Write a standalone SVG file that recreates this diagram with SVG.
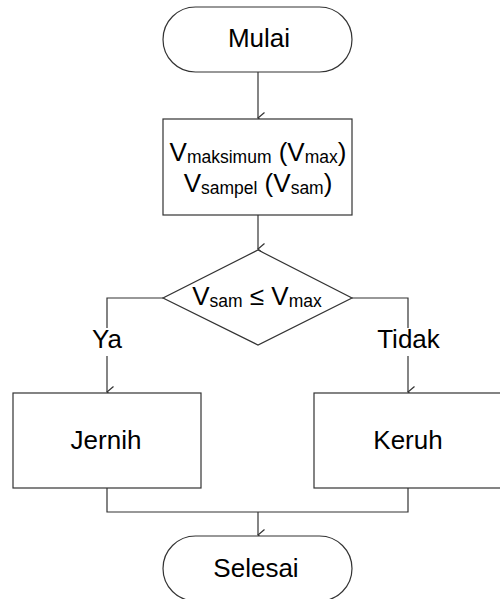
<svg xmlns="http://www.w3.org/2000/svg" width="500" height="599" viewBox="0 0 500 599">
<style>
.s{fill:#fff;stroke:#333;stroke-width:1.2}
.c{fill:none;stroke:#333;stroke-width:1.2}
text{font-family:"Liberation Sans",Arial,sans-serif;font-size:26px;fill:#000;text-anchor:middle}
.sub{font-size:17.5px}
</style>
<defs>
<marker id="a" markerWidth="14" markerHeight="10" refX="7" refY="8" markerUnits="userSpaceOnUse" orient="auto-start-reverse" viewBox="0 0 14 10">
<path d="M1.5,1.5 L7,8 L12.5,1.5" fill="none" stroke="#333" stroke-width="1.2"/>
</marker>
</defs>
<g id="connectors">
<path class="c" d="M258,72 V118" marker-end="url(#a)"/>
<path class="c" d="M258,215 V249" marker-end="url(#a)"/>
<path class="c" d="M163,298 H107 V328"/>
<path class="c" d="M107,356 V392" marker-end="url(#a)"/>
<path class="c" d="M352,298 H408 V328"/>
<path class="c" d="M408,356 V392" marker-end="url(#a)"/>
<path class="c" d="M107,488 V512 H408 V488"/>
<path class="c" d="M258,512 V535" marker-end="url(#a)"/>
<text x="107" y="348">Ya</text>
<text x="408.5" y="348">Tidak</text>
</g>
<g id="mulai">
<rect class="s" x="163" y="7" width="189" height="65" rx="32.5"/>
<text x="259" y="47">Mulai</text>
</g>
<g id="input">
<rect class="s" x="163" y="119" width="189" height="96"/>
<text x="258" y="161">V<tspan class="sub" dy="2">maksimum</tspan><tspan dy="-2"> (V</tspan><tspan class="sub" dy="2">max</tspan><tspan dy="-2">)</tspan></text>
<text x="258" y="192">V<tspan class="sub" dy="2">sampel</tspan><tspan dy="-2"> (V</tspan><tspan class="sub" dy="2">sam</tspan><tspan dy="-2">)</tspan></text>
</g>
<g id="decision">
<polygon class="s" points="258,250 352,298 258,345 163,298"/>
<text x="257" y="305">V<tspan class="sub" dy="2">sam</tspan><tspan dy="-2"> ≤ V</tspan><tspan class="sub" dy="2">max</tspan></text>
</g>
<g id="jernih">
<rect class="s" x="13" y="393" width="188" height="95"/>
<text x="106" y="449">Jernih</text>
</g>
<g id="keruh">
<rect class="s" x="314" y="393" width="188" height="95"/>
<text x="408" y="449">Keruh</text>
</g>
<g id="selesai">
<rect class="s" x="163" y="536" width="189" height="65" rx="32.5"/>
<text x="256" y="577">Selesai</text>
</g>
</svg>
